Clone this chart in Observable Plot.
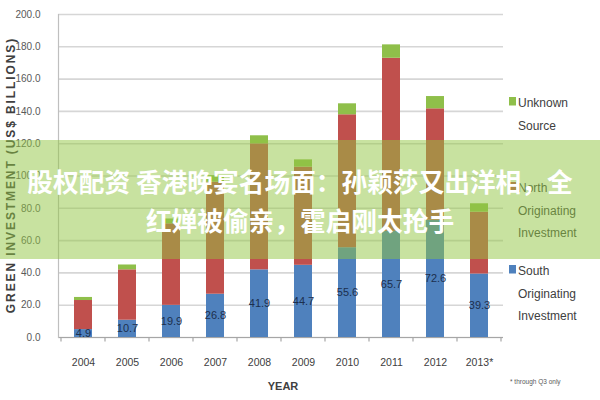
<!DOCTYPE html>
<html>
<head>
<meta charset="utf-8">
<script src="https://cdn.jsdelivr.net/npm/d3@7"></script>
<script src="https://cdn.jsdelivr.net/npm/@observablehq/plot@0.6"></script>
<style>
  html, body { margin: 0; padding: 0; background: #fff; }
  #wrap { position: relative; width: 600px; height: 400px; overflow: hidden; }
  #banner {
    position: absolute; left: 0; top: 140px; width: 600px; height: 119px;
    background: rgba(145,197,65,0.5);
    display: flex; flex-direction: column; align-items: center; justify-content: center;
    color: #fff; font-family: "Noto Sans CJK SC", sans-serif; font-weight: 700;
    font-size: 25.7px; line-height: 39px; text-align: center; white-space: nowrap;
  }
</style>
</head>
<body>
<div id="wrap"></div>
<script>
// ---- data ----
const years = ["2004","2005","2006","2007","2008","2009","2010","2011","2012","2013*"];
const south = [4.9, 10.7, 19.9, 26.8, 41.9, 44.7, 55.6, 65.7, 72.6, 39.3];
const north = [18.0, 31.2, 50.5, 69.4, 78.0, 60.8, 82.3, 107.2, 69.0, 38.3];
const unknown = [1.9, 3.0, 3.0, 4.0, 5.0, 4.5, 6.8, 8.3, 7.6, 5.2];
const seriesNames = ["South Originating Investment", "North Originating Investment", "Unknown Source"];
const seriesColors = ["#4f81bd", "#c0504d", "#8fbf4a"];
const yTicks = [0, 20, 40, 60, 80, 100, 120, 140, 160, 180, 200];
const legendOrder = ["Unknown Source", "North Originating Investment", "South Originating Investment"];
const legendLines = [["Unknown", "Source"], ["North", "Originating", "Investment"], ["South", "Originating", "Investment"]];
const xTitle = "YEAR";
const yTitle = "GREEN INVESTMENT (US$ BILLIONS)";
const footnote = "* through Q3 only";
const bannerLines = ["股权配资 香港晚宴名场面：孙颖莎又出洋相，全", "红婵被偷亲，霍启刚太抢手"];

// ---- build table ----
const rows = [];
years.forEach((yr, i) => {
  rows.push({year: yr, series: seriesNames[0], value: south[i]});
  rows.push({year: yr, series: seriesNames[1], value: north[i]});
  rows.push({year: yr, series: seriesNames[2], value: unknown[i]});
});
const labelRows = years.map((yr, i) => ({year: yr, south: south[i]}));

const font = "Liberation Sans, Arial, sans-serif";

const chart = Plot.plot({
  width: 600, height: 400,
  marginLeft: 58, marginRight: 97, marginTop: 14, marginBottom: 63,
  style: {fontFamily: font, background: "#fff"},
  x: {domain: years, paddingInner: 0.6, paddingOuter: 0.3, label: null},
  y: {domain: [0, 200], label: null},
  color: {domain: seriesNames, range: seriesColors},
  marks: [
    Plot.gridY(yTicks, {stroke: "#d6d6d6", strokeOpacity: 1, strokeWidth: 1.6}),
    Plot.axisY(yTicks, {tickSize: 0, tickPadding: 18, tickFormat: d => d.toFixed(1), fontSize: 10, fill: "#595959", label: null}),
    Plot.axisX({tickSize: 0, tickPadding: 21, fontSize: 10.5, fill: "#404040", label: null}),
    Plot.barY(rows, {x: "year", y: "value", fill: "series"}),
    Plot.ruleY([0], {stroke: "#a6a6a6", strokeWidth: 1.2}),
    Plot.frame({anchor: "left", stroke: "#bfbfbf", strokeWidth: 1.2}),
    Plot.text(labelRows, {x: "year", y: d => d.south / 2, text: d => d.south.toFixed(1), fontSize: 11, fill: "#1c2f4d"})
  ]
});

document.getElementById("wrap").appendChild(chart);

const svg = d3.select(chart);
const sx = chart.scale("x");
const gap = (sx.step - sx.bandwidth) / 2;
const boundaries = years.map(y => sx.apply(y) - gap).concat([sx.apply(years[years.length - 1]) + sx.bandwidth + gap]);
const y0 = chart.scale("y").apply(0);
svg.append("g").selectAll("line").data(boundaries).join("line")
  .attr("x1", d => d).attr("x2", d => d)
  .attr("y1", y0).attr("y2", y0 + 4.5)
  .attr("stroke", "#a6a6a6").attr("stroke-width", 1.2);

// axis titles
svg.append("text").text(xTitle)
  .attr("x", 283).attr("y", 390)
  .attr("text-anchor", "middle")
  .attr("font-family", font).attr("font-weight", "bold").attr("font-size", 11).attr("fill", "#404040");
svg.append("text").text(yTitle)
  .attr("transform", "translate(15,175) rotate(-90)")
  .attr("text-anchor", "middle")
  .attr("font-family", font).attr("font-weight", "bold")
  .attr("font-size", 12).attr("letter-spacing", 1.9).attr("fill", "#404040");

// legend
const legendTop = [97, 182, 265];
const colorOf = name => seriesColors[seriesNames.indexOf(name)];
legendOrder.forEach((name, k) => {
  const g = svg.append("g");
  g.append("rect").attr("x", 509).attr("y", legendTop[k]).attr("width", 7).attr("height", 8.5).attr("fill", colorOf(name));
  legendLines[k].forEach((line, j) => {
    g.append("text").text(line)
      .attr("x", 518).attr("y", legendTop[k] + 10 + j * 22.5)
      .attr("text-anchor", "start")
      .attr("font-family", font).attr("font-size", 12).attr("fill", "#404040");
  });
});
svg.append("text").text(footnote)
  .attr("x", 510).attr("y", 384)
  .attr("text-anchor", "start")
  .attr("font-family", font).attr("font-size", 6.5).attr("fill", "#595959");

// banner overlay
const banner = document.createElement("div");
banner.id = "banner";
bannerLines.forEach(t => { const s = document.createElement("div"); s.textContent = t; banner.appendChild(s); });
document.getElementById("wrap").appendChild(banner);
</script>
</body>
</html>
